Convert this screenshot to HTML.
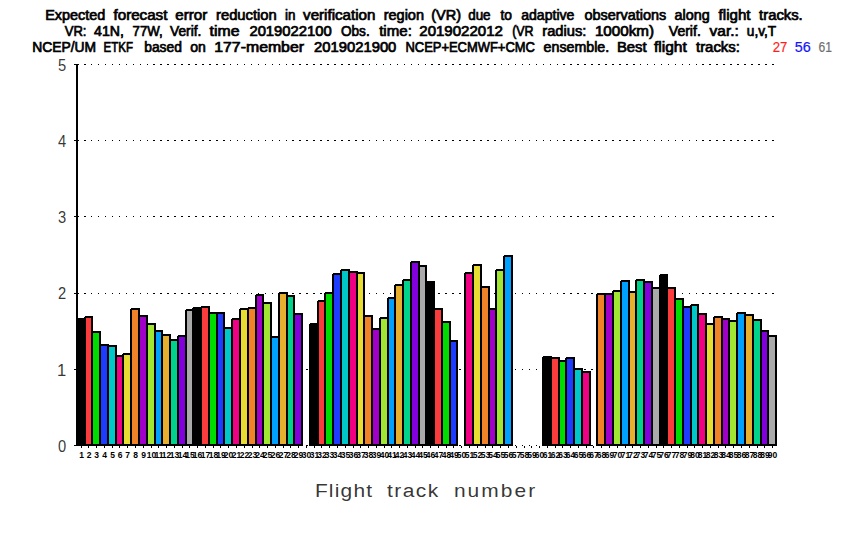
<!DOCTYPE html><html><head><meta charset="utf-8"><style>html,body{margin:0;padding:0;background:#fff;width:850px;height:540px;overflow:hidden}svg{display:block}</style></head><body>
<svg width="850" height="540" viewBox="0 0 850 540">
<rect x="0" y="0" width="850" height="540" fill="#fff"/>
<g font-family="Liberation Sans, sans-serif" font-weight="normal" font-size="14">
<text x="45.17" y="20" textLength="60.04" lengthAdjust="spacingAndGlyphs" fill="#000" stroke="#000" stroke-width="0.7">Expected</text><text x="113.50" y="20" textLength="53.88" lengthAdjust="spacingAndGlyphs" fill="#000" stroke="#000" stroke-width="0.7">forecast</text><text x="175.30" y="20" textLength="31.93" lengthAdjust="spacingAndGlyphs" fill="#000" stroke="#000" stroke-width="0.7">error</text><text x="216.00" y="20" textLength="60.73" lengthAdjust="spacingAndGlyphs" fill="#000" stroke="#000" stroke-width="0.7">reduction</text><text x="285.00" y="20" textLength="10.45" lengthAdjust="spacingAndGlyphs" fill="#000" stroke="#000" stroke-width="0.7">in</text><text x="303.10" y="20" textLength="72.35" lengthAdjust="spacingAndGlyphs" fill="#000" stroke="#000" stroke-width="0.7">verification</text><text x="383.70" y="20" textLength="40.31" lengthAdjust="spacingAndGlyphs" fill="#000" stroke="#000" stroke-width="0.7">region</text><text x="431.30" y="20" textLength="29.79" lengthAdjust="spacingAndGlyphs" fill="#000" stroke="#000" stroke-width="0.7">(VR)</text><text x="468.20" y="20" textLength="22.39" lengthAdjust="spacingAndGlyphs" fill="#000" stroke="#000" stroke-width="0.7">due</text><text x="500.50" y="20" textLength="11.49" lengthAdjust="spacingAndGlyphs" fill="#000" stroke="#000" stroke-width="0.7">to</text><text x="521.20" y="20" textLength="53.19" lengthAdjust="spacingAndGlyphs" fill="#000" stroke="#000" stroke-width="0.7">adaptive</text><text x="584.40" y="20" textLength="81.80" lengthAdjust="spacingAndGlyphs" fill="#000" stroke="#000" stroke-width="0.7">observations</text><text x="674.60" y="20" textLength="35.11" lengthAdjust="spacingAndGlyphs" fill="#000" stroke="#000" stroke-width="0.7">along</text><text x="718.60" y="20" textLength="31.98" lengthAdjust="spacingAndGlyphs" fill="#000" stroke="#000" stroke-width="0.7">flight</text><text x="759.10" y="20" textLength="43.64" lengthAdjust="spacingAndGlyphs" fill="#000" stroke="#000" stroke-width="0.7">tracks.</text>
<text x="64.70" y="36" textLength="21.73" lengthAdjust="spacingAndGlyphs" fill="#000" stroke="#000" stroke-width="0.7">VR:</text><text x="94.10" y="36" textLength="29.80" lengthAdjust="spacingAndGlyphs" fill="#000" stroke="#000" stroke-width="0.7">41N,</text><text x="132.60" y="36" textLength="30.14" lengthAdjust="spacingAndGlyphs" fill="#000" stroke="#000" stroke-width="0.7">77W,</text><text x="170.10" y="36" textLength="31.27" lengthAdjust="spacingAndGlyphs" fill="#000" stroke="#000" stroke-width="0.7">Verif.</text><text x="209.60" y="36" textLength="29.86" lengthAdjust="spacingAndGlyphs" fill="#000" stroke="#000" stroke-width="0.7">time</text><text x="249.40" y="36" textLength="82.37" lengthAdjust="spacingAndGlyphs" fill="#000" stroke="#000" stroke-width="0.7">2019022100</text><text x="341.00" y="36" textLength="28.66" lengthAdjust="spacingAndGlyphs" fill="#000" stroke="#000" stroke-width="0.7">Obs.</text><text x="379.20" y="36" textLength="32.66" lengthAdjust="spacingAndGlyphs" fill="#000" stroke="#000" stroke-width="0.7">time:</text><text x="419.30" y="36" textLength="83.57" lengthAdjust="spacingAndGlyphs" fill="#000" stroke="#000" stroke-width="0.7">2019022012</text><text x="512.20" y="36" textLength="21.40" lengthAdjust="spacingAndGlyphs" fill="#000" stroke="#000" stroke-width="0.7">(VR</text><text x="542.30" y="36" textLength="44.13" lengthAdjust="spacingAndGlyphs" fill="#000" stroke="#000" stroke-width="0.7">radius:</text><text x="594.91" y="36" textLength="59.10" lengthAdjust="spacingAndGlyphs" fill="#000" stroke="#000" stroke-width="0.7">1000km)</text><text x="668.80" y="36" textLength="31.99" lengthAdjust="spacingAndGlyphs" fill="#000" stroke="#000" stroke-width="0.7">Verif.</text><text x="709.60" y="36" textLength="29.18" lengthAdjust="spacingAndGlyphs" fill="#000" stroke="#000" stroke-width="0.7">var.:</text><text x="746.80" y="36" textLength="29.36" lengthAdjust="spacingAndGlyphs" fill="#000" stroke="#000" stroke-width="0.7">u,v,T</text>
<text x="32.21" y="52" textLength="63.84" lengthAdjust="spacingAndGlyphs" fill="#000" stroke="#000" stroke-width="0.7">NCEP/UM</text><text x="103.58" y="52" textLength="29.37" lengthAdjust="spacingAndGlyphs" fill="#000" stroke="#000" stroke-width="0.7">ETKF</text><text x="144.20" y="52" textLength="37.68" lengthAdjust="spacingAndGlyphs" fill="#000" stroke="#000" stroke-width="0.7">based</text><text x="190.20" y="52" textLength="15.59" lengthAdjust="spacingAndGlyphs" fill="#000" stroke="#000" stroke-width="0.7">on</text><text x="214.27" y="52" textLength="89.75" lengthAdjust="spacingAndGlyphs" fill="#000" stroke="#000" stroke-width="0.7">177-member</text><text x="314.10" y="52" textLength="82.27" lengthAdjust="spacingAndGlyphs" fill="#000" stroke="#000" stroke-width="0.7">2019021900</text><text x="405.48" y="52" textLength="129.43" lengthAdjust="spacingAndGlyphs" fill="#000" stroke="#000" stroke-width="0.7">NCEP+ECMWF+CMC</text><text x="543.60" y="52" textLength="65.60" lengthAdjust="spacingAndGlyphs" fill="#000" stroke="#000" stroke-width="0.7">ensemble.</text><text x="616.94" y="52" textLength="29.74" lengthAdjust="spacingAndGlyphs" fill="#000" stroke="#000" stroke-width="0.7">Best</text><text x="653.90" y="52" textLength="32.88" lengthAdjust="spacingAndGlyphs" fill="#000" stroke="#000" stroke-width="0.7">flight</text><text x="696.00" y="52" textLength="43.95" lengthAdjust="spacingAndGlyphs" fill="#000" stroke="#000" stroke-width="0.7">tracks:</text><text x="772.70" y="52" textLength="14.70" lengthAdjust="spacingAndGlyphs" fill="#ff1e1e" stroke="#ff1e1e" stroke-width="0.2">27</text><text x="794.70" y="52" textLength="15.98" lengthAdjust="spacingAndGlyphs" fill="#1414ff" stroke="#1414ff" stroke-width="0.2">56</text><text x="818.60" y="52" textLength="13.42" lengthAdjust="spacingAndGlyphs" fill="#6e6e6e" stroke="#6e6e6e" stroke-width="0.2">61</text>
</g>
<g fill="#000" shape-rendering="crispEdges"><rect x="84" y="445" width="2" height="1"/><rect x="91" y="445" width="1" height="1"/><rect x="98" y="445" width="1" height="1"/><rect x="105" y="445" width="1" height="1"/><rect x="112" y="445" width="1" height="1"/><rect x="119" y="445" width="1" height="1"/><rect x="126" y="445" width="1" height="1"/><rect x="133" y="445" width="1" height="1"/><rect x="140" y="445" width="1" height="1"/><rect x="147" y="445" width="1" height="1"/><rect x="153" y="445" width="2" height="1"/><rect x="160" y="445" width="2" height="1"/><rect x="167" y="445" width="2" height="1"/><rect x="174" y="445" width="2" height="1"/><rect x="181" y="445" width="2" height="1"/><rect x="188" y="445" width="2" height="1"/><rect x="195" y="445" width="2" height="1"/><rect x="202" y="445" width="2" height="1"/><rect x="209" y="445" width="2" height="1"/><rect x="216" y="445" width="2" height="1"/><rect x="223" y="445" width="2" height="1"/><rect x="230" y="445" width="1" height="1"/><rect x="237" y="445" width="1" height="1"/><rect x="244" y="445" width="1" height="1"/><rect x="251" y="445" width="1" height="1"/><rect x="258" y="445" width="1" height="1"/><rect x="265" y="445" width="1" height="1"/><rect x="272" y="445" width="1" height="1"/><rect x="279" y="445" width="1" height="1"/><rect x="286" y="445" width="1" height="1"/><rect x="292" y="445" width="2" height="1"/><rect x="299" y="445" width="2" height="1"/><rect x="306" y="445" width="2" height="1"/><rect x="313" y="445" width="2" height="1"/><rect x="320" y="445" width="2" height="1"/><rect x="327" y="445" width="2" height="1"/><rect x="334" y="445" width="2" height="1"/><rect x="341" y="445" width="2" height="1"/><rect x="348" y="445" width="2" height="1"/><rect x="355" y="445" width="2" height="1"/><rect x="362" y="445" width="2" height="1"/><rect x="369" y="445" width="1" height="1"/><rect x="376" y="445" width="1" height="1"/><rect x="383" y="445" width="1" height="1"/><rect x="390" y="445" width="1" height="1"/><rect x="397" y="445" width="1" height="1"/><rect x="404" y="445" width="1" height="1"/><rect x="411" y="445" width="1" height="1"/><rect x="418" y="445" width="1" height="1"/><rect x="425" y="445" width="1" height="1"/><rect x="431" y="445" width="2" height="1"/><rect x="438" y="445" width="2" height="1"/><rect x="445" y="445" width="2" height="1"/><rect x="452" y="445" width="2" height="1"/><rect x="459" y="445" width="2" height="1"/><rect x="466" y="445" width="2" height="1"/><rect x="473" y="445" width="2" height="1"/><rect x="480" y="445" width="2" height="1"/><rect x="487" y="445" width="2" height="1"/><rect x="494" y="445" width="2" height="1"/><rect x="501" y="445" width="1" height="1"/><rect x="508" y="445" width="1" height="1"/><rect x="515" y="445" width="1" height="1"/><rect x="522" y="445" width="1" height="1"/><rect x="529" y="445" width="1" height="1"/><rect x="536" y="445" width="1" height="1"/><rect x="543" y="445" width="1" height="1"/><rect x="550" y="445" width="1" height="1"/><rect x="557" y="445" width="1" height="1"/><rect x="563" y="445" width="2" height="1"/><rect x="570" y="445" width="2" height="1"/><rect x="577" y="445" width="2" height="1"/><rect x="584" y="445" width="2" height="1"/><rect x="591" y="445" width="2" height="1"/><rect x="598" y="445" width="2" height="1"/><rect x="605" y="445" width="2" height="1"/><rect x="612" y="445" width="2" height="1"/><rect x="619" y="445" width="2" height="1"/><rect x="626" y="445" width="2" height="1"/><rect x="633" y="445" width="2" height="1"/><rect x="640" y="445" width="1" height="1"/><rect x="647" y="445" width="1" height="1"/><rect x="654" y="445" width="1" height="1"/><rect x="661" y="445" width="1" height="1"/><rect x="668" y="445" width="1" height="1"/><rect x="675" y="445" width="1" height="1"/><rect x="682" y="445" width="1" height="1"/><rect x="689" y="445" width="1" height="1"/><rect x="696" y="445" width="1" height="1"/><rect x="702" y="445" width="2" height="1"/><rect x="709" y="445" width="2" height="1"/><rect x="716" y="445" width="2" height="1"/><rect x="723" y="445" width="2" height="1"/><rect x="730" y="445" width="2" height="1"/><rect x="737" y="445" width="2" height="1"/><rect x="744" y="445" width="2" height="1"/><rect x="751" y="445" width="2" height="1"/><rect x="758" y="445" width="2" height="1"/><rect x="765" y="445" width="2" height="1"/><rect x="772" y="445" width="2" height="1"/><rect x="84" y="369" width="2" height="1"/><rect x="91" y="369" width="1" height="1"/><rect x="98" y="369" width="1" height="1"/><rect x="105" y="369" width="1" height="1"/><rect x="112" y="369" width="1" height="1"/><rect x="119" y="369" width="1" height="1"/><rect x="126" y="369" width="1" height="1"/><rect x="133" y="369" width="1" height="1"/><rect x="140" y="369" width="1" height="1"/><rect x="147" y="369" width="1" height="1"/><rect x="153" y="369" width="2" height="1"/><rect x="160" y="369" width="2" height="1"/><rect x="167" y="369" width="2" height="1"/><rect x="174" y="369" width="2" height="1"/><rect x="181" y="369" width="2" height="1"/><rect x="188" y="369" width="2" height="1"/><rect x="195" y="369" width="2" height="1"/><rect x="202" y="369" width="2" height="1"/><rect x="209" y="369" width="2" height="1"/><rect x="216" y="369" width="2" height="1"/><rect x="223" y="369" width="2" height="1"/><rect x="230" y="369" width="1" height="1"/><rect x="237" y="369" width="1" height="1"/><rect x="244" y="369" width="1" height="1"/><rect x="251" y="369" width="1" height="1"/><rect x="258" y="369" width="1" height="1"/><rect x="265" y="369" width="1" height="1"/><rect x="272" y="369" width="1" height="1"/><rect x="279" y="369" width="1" height="1"/><rect x="286" y="369" width="1" height="1"/><rect x="292" y="369" width="2" height="1"/><rect x="299" y="369" width="2" height="1"/><rect x="306" y="369" width="2" height="1"/><rect x="313" y="369" width="2" height="1"/><rect x="320" y="369" width="2" height="1"/><rect x="327" y="369" width="2" height="1"/><rect x="334" y="369" width="2" height="1"/><rect x="341" y="369" width="2" height="1"/><rect x="348" y="369" width="2" height="1"/><rect x="355" y="369" width="2" height="1"/><rect x="362" y="369" width="2" height="1"/><rect x="369" y="369" width="1" height="1"/><rect x="376" y="369" width="1" height="1"/><rect x="383" y="369" width="1" height="1"/><rect x="390" y="369" width="1" height="1"/><rect x="397" y="369" width="1" height="1"/><rect x="404" y="369" width="1" height="1"/><rect x="411" y="369" width="1" height="1"/><rect x="418" y="369" width="1" height="1"/><rect x="425" y="369" width="1" height="1"/><rect x="431" y="369" width="2" height="1"/><rect x="438" y="369" width="2" height="1"/><rect x="445" y="369" width="2" height="1"/><rect x="452" y="369" width="2" height="1"/><rect x="459" y="369" width="2" height="1"/><rect x="466" y="369" width="2" height="1"/><rect x="473" y="369" width="2" height="1"/><rect x="480" y="369" width="2" height="1"/><rect x="487" y="369" width="2" height="1"/><rect x="494" y="369" width="2" height="1"/><rect x="501" y="369" width="1" height="1"/><rect x="508" y="369" width="1" height="1"/><rect x="515" y="369" width="1" height="1"/><rect x="522" y="369" width="1" height="1"/><rect x="529" y="369" width="1" height="1"/><rect x="536" y="369" width="1" height="1"/><rect x="543" y="369" width="1" height="1"/><rect x="550" y="369" width="1" height="1"/><rect x="557" y="369" width="1" height="1"/><rect x="563" y="369" width="2" height="1"/><rect x="570" y="369" width="2" height="1"/><rect x="577" y="369" width="2" height="1"/><rect x="584" y="369" width="2" height="1"/><rect x="591" y="369" width="2" height="1"/><rect x="598" y="369" width="2" height="1"/><rect x="605" y="369" width="2" height="1"/><rect x="612" y="369" width="2" height="1"/><rect x="619" y="369" width="2" height="1"/><rect x="626" y="369" width="2" height="1"/><rect x="633" y="369" width="2" height="1"/><rect x="640" y="369" width="1" height="1"/><rect x="647" y="369" width="1" height="1"/><rect x="654" y="369" width="1" height="1"/><rect x="661" y="369" width="1" height="1"/><rect x="668" y="369" width="1" height="1"/><rect x="675" y="369" width="1" height="1"/><rect x="682" y="369" width="1" height="1"/><rect x="689" y="369" width="1" height="1"/><rect x="696" y="369" width="1" height="1"/><rect x="702" y="369" width="2" height="1"/><rect x="709" y="369" width="2" height="1"/><rect x="716" y="369" width="2" height="1"/><rect x="723" y="369" width="2" height="1"/><rect x="730" y="369" width="2" height="1"/><rect x="737" y="369" width="2" height="1"/><rect x="744" y="369" width="2" height="1"/><rect x="751" y="369" width="2" height="1"/><rect x="758" y="369" width="2" height="1"/><rect x="765" y="369" width="2" height="1"/><rect x="772" y="369" width="2" height="1"/><rect x="84" y="293" width="2" height="1"/><rect x="91" y="293" width="1" height="1"/><rect x="98" y="293" width="1" height="1"/><rect x="105" y="293" width="1" height="1"/><rect x="112" y="293" width="1" height="1"/><rect x="119" y="293" width="1" height="1"/><rect x="126" y="293" width="1" height="1"/><rect x="133" y="293" width="1" height="1"/><rect x="140" y="293" width="1" height="1"/><rect x="147" y="293" width="1" height="1"/><rect x="153" y="293" width="2" height="1"/><rect x="160" y="293" width="2" height="1"/><rect x="167" y="293" width="2" height="1"/><rect x="174" y="293" width="2" height="1"/><rect x="181" y="293" width="2" height="1"/><rect x="188" y="293" width="2" height="1"/><rect x="195" y="293" width="2" height="1"/><rect x="202" y="293" width="2" height="1"/><rect x="209" y="293" width="2" height="1"/><rect x="216" y="293" width="2" height="1"/><rect x="223" y="293" width="2" height="1"/><rect x="230" y="293" width="1" height="1"/><rect x="237" y="293" width="1" height="1"/><rect x="244" y="293" width="1" height="1"/><rect x="251" y="293" width="1" height="1"/><rect x="258" y="293" width="1" height="1"/><rect x="265" y="293" width="1" height="1"/><rect x="272" y="293" width="1" height="1"/><rect x="279" y="293" width="1" height="1"/><rect x="286" y="293" width="1" height="1"/><rect x="292" y="293" width="2" height="1"/><rect x="299" y="293" width="2" height="1"/><rect x="306" y="293" width="2" height="1"/><rect x="313" y="293" width="2" height="1"/><rect x="320" y="293" width="2" height="1"/><rect x="327" y="293" width="2" height="1"/><rect x="334" y="293" width="2" height="1"/><rect x="341" y="293" width="2" height="1"/><rect x="348" y="293" width="2" height="1"/><rect x="355" y="293" width="2" height="1"/><rect x="362" y="293" width="2" height="1"/><rect x="369" y="293" width="1" height="1"/><rect x="376" y="293" width="1" height="1"/><rect x="383" y="293" width="1" height="1"/><rect x="390" y="293" width="1" height="1"/><rect x="397" y="293" width="1" height="1"/><rect x="404" y="293" width="1" height="1"/><rect x="411" y="293" width="1" height="1"/><rect x="418" y="293" width="1" height="1"/><rect x="425" y="293" width="1" height="1"/><rect x="431" y="293" width="2" height="1"/><rect x="438" y="293" width="2" height="1"/><rect x="445" y="293" width="2" height="1"/><rect x="452" y="293" width="2" height="1"/><rect x="459" y="293" width="2" height="1"/><rect x="466" y="293" width="2" height="1"/><rect x="473" y="293" width="2" height="1"/><rect x="480" y="293" width="2" height="1"/><rect x="487" y="293" width="2" height="1"/><rect x="494" y="293" width="2" height="1"/><rect x="501" y="293" width="1" height="1"/><rect x="508" y="293" width="1" height="1"/><rect x="515" y="293" width="1" height="1"/><rect x="522" y="293" width="1" height="1"/><rect x="529" y="293" width="1" height="1"/><rect x="536" y="293" width="1" height="1"/><rect x="543" y="293" width="1" height="1"/><rect x="550" y="293" width="1" height="1"/><rect x="557" y="293" width="1" height="1"/><rect x="563" y="293" width="2" height="1"/><rect x="570" y="293" width="2" height="1"/><rect x="577" y="293" width="2" height="1"/><rect x="584" y="293" width="2" height="1"/><rect x="591" y="293" width="2" height="1"/><rect x="598" y="293" width="2" height="1"/><rect x="605" y="293" width="2" height="1"/><rect x="612" y="293" width="2" height="1"/><rect x="619" y="293" width="2" height="1"/><rect x="626" y="293" width="2" height="1"/><rect x="633" y="293" width="2" height="1"/><rect x="640" y="293" width="1" height="1"/><rect x="647" y="293" width="1" height="1"/><rect x="654" y="293" width="1" height="1"/><rect x="661" y="293" width="1" height="1"/><rect x="668" y="293" width="1" height="1"/><rect x="675" y="293" width="1" height="1"/><rect x="682" y="293" width="1" height="1"/><rect x="689" y="293" width="1" height="1"/><rect x="696" y="293" width="1" height="1"/><rect x="702" y="293" width="2" height="1"/><rect x="709" y="293" width="2" height="1"/><rect x="716" y="293" width="2" height="1"/><rect x="723" y="293" width="2" height="1"/><rect x="730" y="293" width="2" height="1"/><rect x="737" y="293" width="2" height="1"/><rect x="744" y="293" width="2" height="1"/><rect x="751" y="293" width="2" height="1"/><rect x="758" y="293" width="2" height="1"/><rect x="765" y="293" width="2" height="1"/><rect x="772" y="293" width="2" height="1"/><rect x="84" y="216" width="2" height="1"/><rect x="91" y="216" width="1" height="1"/><rect x="98" y="216" width="1" height="1"/><rect x="105" y="216" width="1" height="1"/><rect x="112" y="216" width="1" height="1"/><rect x="119" y="216" width="1" height="1"/><rect x="126" y="216" width="1" height="1"/><rect x="133" y="216" width="1" height="1"/><rect x="140" y="216" width="1" height="1"/><rect x="147" y="216" width="1" height="1"/><rect x="153" y="216" width="2" height="1"/><rect x="160" y="216" width="2" height="1"/><rect x="167" y="216" width="2" height="1"/><rect x="174" y="216" width="2" height="1"/><rect x="181" y="216" width="2" height="1"/><rect x="188" y="216" width="2" height="1"/><rect x="195" y="216" width="2" height="1"/><rect x="202" y="216" width="2" height="1"/><rect x="209" y="216" width="2" height="1"/><rect x="216" y="216" width="2" height="1"/><rect x="223" y="216" width="2" height="1"/><rect x="230" y="216" width="1" height="1"/><rect x="237" y="216" width="1" height="1"/><rect x="244" y="216" width="1" height="1"/><rect x="251" y="216" width="1" height="1"/><rect x="258" y="216" width="1" height="1"/><rect x="265" y="216" width="1" height="1"/><rect x="272" y="216" width="1" height="1"/><rect x="279" y="216" width="1" height="1"/><rect x="286" y="216" width="1" height="1"/><rect x="292" y="216" width="2" height="1"/><rect x="299" y="216" width="2" height="1"/><rect x="306" y="216" width="2" height="1"/><rect x="313" y="216" width="2" height="1"/><rect x="320" y="216" width="2" height="1"/><rect x="327" y="216" width="2" height="1"/><rect x="334" y="216" width="2" height="1"/><rect x="341" y="216" width="2" height="1"/><rect x="348" y="216" width="2" height="1"/><rect x="355" y="216" width="2" height="1"/><rect x="362" y="216" width="2" height="1"/><rect x="369" y="216" width="1" height="1"/><rect x="376" y="216" width="1" height="1"/><rect x="383" y="216" width="1" height="1"/><rect x="390" y="216" width="1" height="1"/><rect x="397" y="216" width="1" height="1"/><rect x="404" y="216" width="1" height="1"/><rect x="411" y="216" width="1" height="1"/><rect x="418" y="216" width="1" height="1"/><rect x="425" y="216" width="1" height="1"/><rect x="431" y="216" width="2" height="1"/><rect x="438" y="216" width="2" height="1"/><rect x="445" y="216" width="2" height="1"/><rect x="452" y="216" width="2" height="1"/><rect x="459" y="216" width="2" height="1"/><rect x="466" y="216" width="2" height="1"/><rect x="473" y="216" width="2" height="1"/><rect x="480" y="216" width="2" height="1"/><rect x="487" y="216" width="2" height="1"/><rect x="494" y="216" width="2" height="1"/><rect x="501" y="216" width="1" height="1"/><rect x="508" y="216" width="1" height="1"/><rect x="515" y="216" width="1" height="1"/><rect x="522" y="216" width="1" height="1"/><rect x="529" y="216" width="1" height="1"/><rect x="536" y="216" width="1" height="1"/><rect x="543" y="216" width="1" height="1"/><rect x="550" y="216" width="1" height="1"/><rect x="557" y="216" width="1" height="1"/><rect x="563" y="216" width="2" height="1"/><rect x="570" y="216" width="2" height="1"/><rect x="577" y="216" width="2" height="1"/><rect x="584" y="216" width="2" height="1"/><rect x="591" y="216" width="2" height="1"/><rect x="598" y="216" width="2" height="1"/><rect x="605" y="216" width="2" height="1"/><rect x="612" y="216" width="2" height="1"/><rect x="619" y="216" width="2" height="1"/><rect x="626" y="216" width="2" height="1"/><rect x="633" y="216" width="2" height="1"/><rect x="640" y="216" width="1" height="1"/><rect x="647" y="216" width="1" height="1"/><rect x="654" y="216" width="1" height="1"/><rect x="661" y="216" width="1" height="1"/><rect x="668" y="216" width="1" height="1"/><rect x="675" y="216" width="1" height="1"/><rect x="682" y="216" width="1" height="1"/><rect x="689" y="216" width="1" height="1"/><rect x="696" y="216" width="1" height="1"/><rect x="702" y="216" width="2" height="1"/><rect x="709" y="216" width="2" height="1"/><rect x="716" y="216" width="2" height="1"/><rect x="723" y="216" width="2" height="1"/><rect x="730" y="216" width="2" height="1"/><rect x="737" y="216" width="2" height="1"/><rect x="744" y="216" width="2" height="1"/><rect x="751" y="216" width="2" height="1"/><rect x="758" y="216" width="2" height="1"/><rect x="765" y="216" width="2" height="1"/><rect x="772" y="216" width="2" height="1"/><rect x="84" y="140" width="2" height="1"/><rect x="91" y="140" width="1" height="1"/><rect x="98" y="140" width="1" height="1"/><rect x="105" y="140" width="1" height="1"/><rect x="112" y="140" width="1" height="1"/><rect x="119" y="140" width="1" height="1"/><rect x="126" y="140" width="1" height="1"/><rect x="133" y="140" width="1" height="1"/><rect x="140" y="140" width="1" height="1"/><rect x="147" y="140" width="1" height="1"/><rect x="153" y="140" width="2" height="1"/><rect x="160" y="140" width="2" height="1"/><rect x="167" y="140" width="2" height="1"/><rect x="174" y="140" width="2" height="1"/><rect x="181" y="140" width="2" height="1"/><rect x="188" y="140" width="2" height="1"/><rect x="195" y="140" width="2" height="1"/><rect x="202" y="140" width="2" height="1"/><rect x="209" y="140" width="2" height="1"/><rect x="216" y="140" width="2" height="1"/><rect x="223" y="140" width="2" height="1"/><rect x="230" y="140" width="1" height="1"/><rect x="237" y="140" width="1" height="1"/><rect x="244" y="140" width="1" height="1"/><rect x="251" y="140" width="1" height="1"/><rect x="258" y="140" width="1" height="1"/><rect x="265" y="140" width="1" height="1"/><rect x="272" y="140" width="1" height="1"/><rect x="279" y="140" width="1" height="1"/><rect x="286" y="140" width="1" height="1"/><rect x="292" y="140" width="2" height="1"/><rect x="299" y="140" width="2" height="1"/><rect x="306" y="140" width="2" height="1"/><rect x="313" y="140" width="2" height="1"/><rect x="320" y="140" width="2" height="1"/><rect x="327" y="140" width="2" height="1"/><rect x="334" y="140" width="2" height="1"/><rect x="341" y="140" width="2" height="1"/><rect x="348" y="140" width="2" height="1"/><rect x="355" y="140" width="2" height="1"/><rect x="362" y="140" width="2" height="1"/><rect x="369" y="140" width="1" height="1"/><rect x="376" y="140" width="1" height="1"/><rect x="383" y="140" width="1" height="1"/><rect x="390" y="140" width="1" height="1"/><rect x="397" y="140" width="1" height="1"/><rect x="404" y="140" width="1" height="1"/><rect x="411" y="140" width="1" height="1"/><rect x="418" y="140" width="1" height="1"/><rect x="425" y="140" width="1" height="1"/><rect x="431" y="140" width="2" height="1"/><rect x="438" y="140" width="2" height="1"/><rect x="445" y="140" width="2" height="1"/><rect x="452" y="140" width="2" height="1"/><rect x="459" y="140" width="2" height="1"/><rect x="466" y="140" width="2" height="1"/><rect x="473" y="140" width="2" height="1"/><rect x="480" y="140" width="2" height="1"/><rect x="487" y="140" width="2" height="1"/><rect x="494" y="140" width="2" height="1"/><rect x="501" y="140" width="1" height="1"/><rect x="508" y="140" width="1" height="1"/><rect x="515" y="140" width="1" height="1"/><rect x="522" y="140" width="1" height="1"/><rect x="529" y="140" width="1" height="1"/><rect x="536" y="140" width="1" height="1"/><rect x="543" y="140" width="1" height="1"/><rect x="550" y="140" width="1" height="1"/><rect x="557" y="140" width="1" height="1"/><rect x="563" y="140" width="2" height="1"/><rect x="570" y="140" width="2" height="1"/><rect x="577" y="140" width="2" height="1"/><rect x="584" y="140" width="2" height="1"/><rect x="591" y="140" width="2" height="1"/><rect x="598" y="140" width="2" height="1"/><rect x="605" y="140" width="2" height="1"/><rect x="612" y="140" width="2" height="1"/><rect x="619" y="140" width="2" height="1"/><rect x="626" y="140" width="2" height="1"/><rect x="633" y="140" width="2" height="1"/><rect x="640" y="140" width="1" height="1"/><rect x="647" y="140" width="1" height="1"/><rect x="654" y="140" width="1" height="1"/><rect x="661" y="140" width="1" height="1"/><rect x="668" y="140" width="1" height="1"/><rect x="675" y="140" width="1" height="1"/><rect x="682" y="140" width="1" height="1"/><rect x="689" y="140" width="1" height="1"/><rect x="696" y="140" width="1" height="1"/><rect x="702" y="140" width="2" height="1"/><rect x="709" y="140" width="2" height="1"/><rect x="716" y="140" width="2" height="1"/><rect x="723" y="140" width="2" height="1"/><rect x="730" y="140" width="2" height="1"/><rect x="737" y="140" width="2" height="1"/><rect x="744" y="140" width="2" height="1"/><rect x="751" y="140" width="2" height="1"/><rect x="758" y="140" width="2" height="1"/><rect x="765" y="140" width="2" height="1"/><rect x="772" y="140" width="2" height="1"/><rect x="84" y="64" width="2" height="1"/><rect x="91" y="64" width="1" height="1"/><rect x="98" y="64" width="1" height="1"/><rect x="105" y="64" width="1" height="1"/><rect x="112" y="64" width="1" height="1"/><rect x="119" y="64" width="1" height="1"/><rect x="126" y="64" width="1" height="1"/><rect x="133" y="64" width="1" height="1"/><rect x="140" y="64" width="1" height="1"/><rect x="147" y="64" width="1" height="1"/><rect x="153" y="64" width="2" height="1"/><rect x="160" y="64" width="2" height="1"/><rect x="167" y="64" width="2" height="1"/><rect x="174" y="64" width="2" height="1"/><rect x="181" y="64" width="2" height="1"/><rect x="188" y="64" width="2" height="1"/><rect x="195" y="64" width="2" height="1"/><rect x="202" y="64" width="2" height="1"/><rect x="209" y="64" width="2" height="1"/><rect x="216" y="64" width="2" height="1"/><rect x="223" y="64" width="2" height="1"/><rect x="230" y="64" width="1" height="1"/><rect x="237" y="64" width="1" height="1"/><rect x="244" y="64" width="1" height="1"/><rect x="251" y="64" width="1" height="1"/><rect x="258" y="64" width="1" height="1"/><rect x="265" y="64" width="1" height="1"/><rect x="272" y="64" width="1" height="1"/><rect x="279" y="64" width="1" height="1"/><rect x="286" y="64" width="1" height="1"/><rect x="292" y="64" width="2" height="1"/><rect x="299" y="64" width="2" height="1"/><rect x="306" y="64" width="2" height="1"/><rect x="313" y="64" width="2" height="1"/><rect x="320" y="64" width="2" height="1"/><rect x="327" y="64" width="2" height="1"/><rect x="334" y="64" width="2" height="1"/><rect x="341" y="64" width="2" height="1"/><rect x="348" y="64" width="2" height="1"/><rect x="355" y="64" width="2" height="1"/><rect x="362" y="64" width="2" height="1"/><rect x="369" y="64" width="1" height="1"/><rect x="376" y="64" width="1" height="1"/><rect x="383" y="64" width="1" height="1"/><rect x="390" y="64" width="1" height="1"/><rect x="397" y="64" width="1" height="1"/><rect x="404" y="64" width="1" height="1"/><rect x="411" y="64" width="1" height="1"/><rect x="418" y="64" width="1" height="1"/><rect x="425" y="64" width="1" height="1"/><rect x="431" y="64" width="2" height="1"/><rect x="438" y="64" width="2" height="1"/><rect x="445" y="64" width="2" height="1"/><rect x="452" y="64" width="2" height="1"/><rect x="459" y="64" width="2" height="1"/><rect x="466" y="64" width="2" height="1"/><rect x="473" y="64" width="2" height="1"/><rect x="480" y="64" width="2" height="1"/><rect x="487" y="64" width="2" height="1"/><rect x="494" y="64" width="2" height="1"/><rect x="501" y="64" width="1" height="1"/><rect x="508" y="64" width="1" height="1"/><rect x="515" y="64" width="1" height="1"/><rect x="522" y="64" width="1" height="1"/><rect x="529" y="64" width="1" height="1"/><rect x="536" y="64" width="1" height="1"/><rect x="543" y="64" width="1" height="1"/><rect x="550" y="64" width="1" height="1"/><rect x="557" y="64" width="1" height="1"/><rect x="563" y="64" width="2" height="1"/><rect x="570" y="64" width="2" height="1"/><rect x="577" y="64" width="2" height="1"/><rect x="584" y="64" width="2" height="1"/><rect x="591" y="64" width="2" height="1"/><rect x="598" y="64" width="2" height="1"/><rect x="605" y="64" width="2" height="1"/><rect x="612" y="64" width="2" height="1"/><rect x="619" y="64" width="2" height="1"/><rect x="626" y="64" width="2" height="1"/><rect x="633" y="64" width="2" height="1"/><rect x="640" y="64" width="1" height="1"/><rect x="647" y="64" width="1" height="1"/><rect x="654" y="64" width="1" height="1"/><rect x="661" y="64" width="1" height="1"/><rect x="668" y="64" width="1" height="1"/><rect x="675" y="64" width="1" height="1"/><rect x="682" y="64" width="1" height="1"/><rect x="689" y="64" width="1" height="1"/><rect x="696" y="64" width="1" height="1"/><rect x="702" y="64" width="2" height="1"/><rect x="709" y="64" width="2" height="1"/><rect x="716" y="64" width="2" height="1"/><rect x="723" y="64" width="2" height="1"/><rect x="730" y="64" width="2" height="1"/><rect x="737" y="64" width="2" height="1"/><rect x="744" y="64" width="2" height="1"/><rect x="751" y="64" width="2" height="1"/><rect x="758" y="64" width="2" height="1"/><rect x="765" y="64" width="2" height="1"/><rect x="772" y="64" width="2" height="1"/></g>
<g shape-rendering="crispEdges"><rect x="77" y="319" width="8" height="126" fill="#000000"/><rect x="85" y="317" width="7" height="128" fill="#fa3c3c"/><rect x="92" y="332" width="8" height="113" fill="#00dc00"/><rect x="100" y="345" width="8" height="100" fill="#1e3cff"/><rect x="108" y="346" width="8" height="99" fill="#00c8c8"/><rect x="116" y="356" width="7" height="89" fill="#f00082"/><rect x="123" y="354" width="8" height="91" fill="#e6dc32"/><rect x="131" y="309" width="8" height="136" fill="#f08228"/><rect x="139" y="316" width="8" height="129" fill="#a000c8"/><rect x="147" y="324" width="8" height="121" fill="#a0e632"/><rect x="155" y="331" width="7" height="114" fill="#00a0ff"/><rect x="162" y="335" width="8" height="110" fill="#e6af2d"/><rect x="170" y="340" width="8" height="105" fill="#00d28c"/><rect x="178" y="336" width="8" height="109" fill="#8200dc"/><rect x="186" y="310" width="7" height="135" fill="#aaaaaa"/><rect x="193" y="308" width="8" height="137" fill="#000000"/><rect x="201" y="307" width="8" height="138" fill="#fa3c3c"/><rect x="209" y="313" width="8" height="132" fill="#00dc00"/><rect x="217" y="313" width="7" height="132" fill="#1e3cff"/><rect x="224" y="328" width="8" height="117" fill="#00c8c8"/><rect x="232" y="319" width="8" height="126" fill="#f00082"/><rect x="240" y="309" width="8" height="136" fill="#e6dc32"/><rect x="248" y="308" width="8" height="137" fill="#f08228"/><rect x="256" y="295" width="7" height="150" fill="#a000c8"/><rect x="263" y="303" width="8" height="142" fill="#a0e632"/><rect x="271" y="337" width="8" height="108" fill="#00a0ff"/><rect x="279" y="293" width="8" height="152" fill="#e6af2d"/><rect x="287" y="296" width="7" height="149" fill="#00d28c"/><rect x="294" y="314" width="8" height="131" fill="#8200dc"/><rect x="310" y="324" width="8" height="121" fill="#000000"/><rect x="318" y="301" width="7" height="144" fill="#fa3c3c"/><rect x="325" y="293" width="8" height="152" fill="#00dc00"/><rect x="333" y="274" width="8" height="171" fill="#1e3cff"/><rect x="341" y="270" width="8" height="175" fill="#00c8c8"/><rect x="349" y="272" width="8" height="173" fill="#f00082"/><rect x="357" y="273" width="7" height="172" fill="#e6dc32"/><rect x="364" y="316" width="8" height="129" fill="#f08228"/><rect x="372" y="329" width="8" height="116" fill="#a000c8"/><rect x="380" y="318" width="8" height="127" fill="#a0e632"/><rect x="388" y="298" width="7" height="147" fill="#00a0ff"/><rect x="395" y="285" width="8" height="160" fill="#e6af2d"/><rect x="403" y="280" width="8" height="165" fill="#00d28c"/><rect x="411" y="262" width="8" height="183" fill="#8200dc"/><rect x="419" y="266" width="7" height="179" fill="#aaaaaa"/><rect x="426" y="282" width="8" height="163" fill="#000000"/><rect x="434" y="309" width="8" height="136" fill="#fa3c3c"/><rect x="442" y="322" width="8" height="123" fill="#00dc00"/><rect x="450" y="341" width="7" height="104" fill="#1e3cff"/><rect x="465" y="273" width="8" height="172" fill="#f00082"/><rect x="473" y="265" width="8" height="180" fill="#e6dc32"/><rect x="481" y="287" width="8" height="158" fill="#f08228"/><rect x="489" y="309" width="7" height="136" fill="#a000c8"/><rect x="496" y="270" width="8" height="175" fill="#a0e632"/><rect x="504" y="256" width="8" height="189" fill="#00a0ff"/><rect x="543" y="357" width="8" height="88" fill="#000000"/><rect x="551" y="358" width="8" height="87" fill="#fa3c3c"/><rect x="559" y="361" width="7" height="84" fill="#00dc00"/><rect x="566" y="358" width="8" height="87" fill="#1e3cff"/><rect x="574" y="369" width="8" height="76" fill="#00c8c8"/><rect x="582" y="372" width="8" height="73" fill="#f00082"/><rect x="597" y="294" width="8" height="151" fill="#f08228"/><rect x="605" y="294" width="8" height="151" fill="#a000c8"/><rect x="613" y="291" width="8" height="154" fill="#a0e632"/><rect x="621" y="281" width="8" height="164" fill="#00a0ff"/><rect x="629" y="292" width="7" height="153" fill="#e6af2d"/><rect x="636" y="280" width="8" height="165" fill="#00d28c"/><rect x="644" y="282" width="8" height="163" fill="#8200dc"/><rect x="652" y="288" width="8" height="157" fill="#aaaaaa"/><rect x="660" y="275" width="7" height="170" fill="#000000"/><rect x="667" y="288" width="8" height="157" fill="#fa3c3c"/><rect x="675" y="299" width="8" height="146" fill="#00dc00"/><rect x="683" y="307" width="8" height="138" fill="#1e3cff"/><rect x="691" y="305" width="7" height="140" fill="#00c8c8"/><rect x="698" y="314" width="8" height="131" fill="#f00082"/><rect x="706" y="324" width="8" height="121" fill="#e6dc32"/><rect x="714" y="317" width="8" height="128" fill="#f08228"/><rect x="722" y="319" width="7" height="126" fill="#a000c8"/><rect x="729" y="321" width="8" height="124" fill="#a0e632"/><rect x="737" y="313" width="8" height="132" fill="#00a0ff"/><rect x="745" y="315" width="8" height="130" fill="#e6af2d"/><rect x="753" y="320" width="8" height="125" fill="#00d28c"/><rect x="761" y="331" width="7" height="114" fill="#8200dc"/><rect x="768" y="336" width="8" height="109" fill="#aaaaaa"/></g>
<g shape-rendering="crispEdges" fill="none" stroke="#000" stroke-width="2"><rect x="77" y="319" width="8" height="126"/><rect x="85" y="317" width="7" height="128"/><rect x="92" y="332" width="8" height="113"/><rect x="100" y="345" width="8" height="100"/><rect x="108" y="346" width="8" height="99"/><rect x="116" y="356" width="7" height="89"/><rect x="123" y="354" width="8" height="91"/><rect x="131" y="309" width="8" height="136"/><rect x="139" y="316" width="8" height="129"/><rect x="147" y="324" width="8" height="121"/><rect x="155" y="331" width="7" height="114"/><rect x="162" y="335" width="8" height="110"/><rect x="170" y="340" width="8" height="105"/><rect x="178" y="336" width="8" height="109"/><rect x="186" y="310" width="7" height="135"/><rect x="193" y="308" width="8" height="137"/><rect x="201" y="307" width="8" height="138"/><rect x="209" y="313" width="8" height="132"/><rect x="217" y="313" width="7" height="132"/><rect x="224" y="328" width="8" height="117"/><rect x="232" y="319" width="8" height="126"/><rect x="240" y="309" width="8" height="136"/><rect x="248" y="308" width="8" height="137"/><rect x="256" y="295" width="7" height="150"/><rect x="263" y="303" width="8" height="142"/><rect x="271" y="337" width="8" height="108"/><rect x="279" y="293" width="8" height="152"/><rect x="287" y="296" width="7" height="149"/><rect x="294" y="314" width="8" height="131"/><rect x="310" y="324" width="8" height="121"/><rect x="318" y="301" width="7" height="144"/><rect x="325" y="293" width="8" height="152"/><rect x="333" y="274" width="8" height="171"/><rect x="341" y="270" width="8" height="175"/><rect x="349" y="272" width="8" height="173"/><rect x="357" y="273" width="7" height="172"/><rect x="364" y="316" width="8" height="129"/><rect x="372" y="329" width="8" height="116"/><rect x="380" y="318" width="8" height="127"/><rect x="388" y="298" width="7" height="147"/><rect x="395" y="285" width="8" height="160"/><rect x="403" y="280" width="8" height="165"/><rect x="411" y="262" width="8" height="183"/><rect x="419" y="266" width="7" height="179"/><rect x="426" y="282" width="8" height="163"/><rect x="434" y="309" width="8" height="136"/><rect x="442" y="322" width="8" height="123"/><rect x="450" y="341" width="7" height="104"/><rect x="465" y="273" width="8" height="172"/><rect x="473" y="265" width="8" height="180"/><rect x="481" y="287" width="8" height="158"/><rect x="489" y="309" width="7" height="136"/><rect x="496" y="270" width="8" height="175"/><rect x="504" y="256" width="8" height="189"/><rect x="543" y="357" width="8" height="88"/><rect x="551" y="358" width="8" height="87"/><rect x="559" y="361" width="7" height="84"/><rect x="566" y="358" width="8" height="87"/><rect x="574" y="369" width="8" height="76"/><rect x="582" y="372" width="8" height="73"/><rect x="597" y="294" width="8" height="151"/><rect x="605" y="294" width="8" height="151"/><rect x="613" y="291" width="8" height="154"/><rect x="621" y="281" width="8" height="164"/><rect x="629" y="292" width="7" height="153"/><rect x="636" y="280" width="8" height="165"/><rect x="644" y="282" width="8" height="163"/><rect x="652" y="288" width="8" height="157"/><rect x="660" y="275" width="7" height="170"/><rect x="667" y="288" width="8" height="157"/><rect x="675" y="299" width="8" height="146"/><rect x="683" y="307" width="8" height="138"/><rect x="691" y="305" width="7" height="140"/><rect x="698" y="314" width="8" height="131"/><rect x="706" y="324" width="8" height="121"/><rect x="714" y="317" width="8" height="128"/><rect x="722" y="319" width="7" height="126"/><rect x="729" y="321" width="8" height="124"/><rect x="737" y="313" width="8" height="132"/><rect x="745" y="315" width="8" height="130"/><rect x="753" y="320" width="8" height="125"/><rect x="761" y="331" width="7" height="114"/><rect x="768" y="336" width="8" height="109"/></g>
<g shape-rendering="crispEdges" fill="#fff"><rect x="84" y="316" width="1" height="1"/><rect x="122" y="353" width="1" height="1"/><rect x="130" y="308" width="1" height="1"/><rect x="177" y="335" width="1" height="1"/><rect x="185" y="309" width="1" height="1"/><rect x="192" y="307" width="1" height="1"/><rect x="200" y="306" width="1" height="1"/><rect x="231" y="318" width="1" height="1"/><rect x="239" y="308" width="1" height="1"/><rect x="247" y="307" width="1" height="1"/><rect x="255" y="294" width="1" height="1"/><rect x="278" y="292" width="1" height="1"/><rect x="309" y="323" width="1" height="1"/><rect x="317" y="300" width="1" height="1"/><rect x="324" y="292" width="1" height="1"/><rect x="332" y="273" width="1" height="1"/><rect x="340" y="269" width="1" height="1"/><rect x="379" y="317" width="1" height="1"/><rect x="387" y="297" width="1" height="1"/><rect x="394" y="284" width="1" height="1"/><rect x="402" y="279" width="1" height="1"/><rect x="410" y="261" width="1" height="1"/><rect x="464" y="272" width="1" height="1"/><rect x="472" y="264" width="1" height="1"/><rect x="495" y="269" width="1" height="1"/><rect x="503" y="255" width="1" height="1"/><rect x="542" y="356" width="1" height="1"/><rect x="565" y="357" width="1" height="1"/><rect x="596" y="293" width="1" height="1"/><rect x="612" y="290" width="1" height="1"/><rect x="620" y="280" width="1" height="1"/><rect x="635" y="279" width="1" height="1"/><rect x="659" y="274" width="1" height="1"/><rect x="690" y="304" width="1" height="1"/><rect x="713" y="316" width="1" height="1"/><rect x="736" y="312" width="1" height="1"/></g>
<g shape-rendering="crispEdges" fill="#000">
<rect x="76" y="64" width="2" height="382"/>
<rect x="74" y="445" width="5" height="1"/>
<rect x="74" y="369" width="5" height="1"/>
<rect x="74" y="293" width="5" height="1"/>
<rect x="74" y="216" width="5" height="1"/>
<rect x="74" y="140" width="5" height="1"/>
<rect x="74" y="64" width="5" height="1"/>
<rect x="81" y="446" width="1" height="2"/>
<rect x="88" y="446" width="1" height="2"/>
<rect x="96" y="446" width="1" height="2"/>
<rect x="104" y="446" width="1" height="2"/>
<rect x="112" y="446" width="1" height="2"/>
<rect x="119" y="446" width="1" height="2"/>
<rect x="127" y="446" width="1" height="2"/>
<rect x="135" y="446" width="1" height="2"/>
<rect x="143" y="446" width="1" height="2"/>
<rect x="151" y="446" width="1" height="2"/>
<rect x="158" y="446" width="1" height="2"/>
<rect x="166" y="446" width="1" height="2"/>
<rect x="174" y="446" width="1" height="2"/>
<rect x="182" y="446" width="1" height="2"/>
<rect x="189" y="446" width="1" height="2"/>
<rect x="197" y="446" width="1" height="2"/>
<rect x="205" y="446" width="1" height="2"/>
<rect x="213" y="446" width="1" height="2"/>
<rect x="220" y="446" width="1" height="2"/>
<rect x="228" y="446" width="1" height="2"/>
<rect x="236" y="446" width="1" height="2"/>
<rect x="244" y="446" width="1" height="2"/>
<rect x="252" y="446" width="1" height="2"/>
<rect x="259" y="446" width="1" height="2"/>
<rect x="267" y="446" width="1" height="2"/>
<rect x="275" y="446" width="1" height="2"/>
<rect x="283" y="446" width="1" height="2"/>
<rect x="290" y="446" width="1" height="2"/>
<rect x="298" y="446" width="1" height="2"/>
<rect x="306" y="446" width="1" height="2"/>
<rect x="314" y="446" width="1" height="2"/>
<rect x="321" y="446" width="1" height="2"/>
<rect x="329" y="446" width="1" height="2"/>
<rect x="337" y="446" width="1" height="2"/>
<rect x="345" y="446" width="1" height="2"/>
<rect x="353" y="446" width="1" height="2"/>
<rect x="360" y="446" width="1" height="2"/>
<rect x="368" y="446" width="1" height="2"/>
<rect x="376" y="446" width="1" height="2"/>
<rect x="384" y="446" width="1" height="2"/>
<rect x="391" y="446" width="1" height="2"/>
<rect x="399" y="446" width="1" height="2"/>
<rect x="407" y="446" width="1" height="2"/>
<rect x="415" y="446" width="1" height="2"/>
<rect x="422" y="446" width="1" height="2"/>
<rect x="430" y="446" width="1" height="2"/>
<rect x="438" y="446" width="1" height="2"/>
<rect x="446" y="446" width="1" height="2"/>
<rect x="453" y="446" width="1" height="2"/>
<rect x="461" y="446" width="1" height="2"/>
<rect x="469" y="446" width="1" height="2"/>
<rect x="477" y="446" width="1" height="2"/>
<rect x="485" y="446" width="1" height="2"/>
<rect x="492" y="446" width="1" height="2"/>
<rect x="500" y="446" width="1" height="2"/>
<rect x="508" y="446" width="1" height="2"/>
<rect x="516" y="446" width="1" height="2"/>
<rect x="524" y="446" width="1" height="2"/>
<rect x="531" y="446" width="1" height="2"/>
<rect x="539" y="446" width="1" height="2"/>
<rect x="547" y="446" width="1" height="2"/>
<rect x="555" y="446" width="1" height="2"/>
<rect x="562" y="446" width="1" height="2"/>
<rect x="570" y="446" width="1" height="2"/>
<rect x="578" y="446" width="1" height="2"/>
<rect x="586" y="446" width="1" height="2"/>
<rect x="593" y="446" width="1" height="2"/>
<rect x="601" y="446" width="1" height="2"/>
<rect x="609" y="446" width="1" height="2"/>
<rect x="617" y="446" width="1" height="2"/>
<rect x="625" y="446" width="1" height="2"/>
<rect x="632" y="446" width="1" height="2"/>
<rect x="640" y="446" width="1" height="2"/>
<rect x="648" y="446" width="1" height="2"/>
<rect x="656" y="446" width="1" height="2"/>
<rect x="663" y="446" width="1" height="2"/>
<rect x="671" y="446" width="1" height="2"/>
<rect x="679" y="446" width="1" height="2"/>
<rect x="687" y="446" width="1" height="2"/>
<rect x="694" y="446" width="1" height="2"/>
<rect x="702" y="446" width="1" height="2"/>
<rect x="710" y="446" width="1" height="2"/>
<rect x="718" y="446" width="1" height="2"/>
<rect x="725" y="446" width="1" height="2"/>
<rect x="733" y="446" width="1" height="2"/>
<rect x="741" y="446" width="1" height="2"/>
<rect x="749" y="446" width="1" height="2"/>
<rect x="757" y="446" width="1" height="2"/>
<rect x="764" y="446" width="1" height="2"/>
<rect x="772" y="446" width="1" height="2"/>
</g>
<g font-family="Liberation Sans, sans-serif" font-size="16.8" fill="#000" fill-opacity="0.8">
<text x="58.00" y="452" textLength="8.19" lengthAdjust="spacingAndGlyphs">0</text>
<text x="57.01" y="376" textLength="9.22" lengthAdjust="spacingAndGlyphs">1</text>
<text x="58.00" y="299" textLength="8.19" lengthAdjust="spacingAndGlyphs">2</text>
<text x="58.00" y="223" textLength="8.19" lengthAdjust="spacingAndGlyphs">3</text>
<text x="58.00" y="147" textLength="8.19" lengthAdjust="spacingAndGlyphs">4</text>
<text x="58.00" y="71" textLength="8.19" lengthAdjust="spacingAndGlyphs">5</text>
</g>
<g font-family="Liberation Sans, sans-serif" font-weight="bold" font-size="8.5" fill="#000" text-anchor="middle">
<text x="81.5" y="458">1</text>
<text x="89.0" y="458">2</text>
<text x="96.5" y="458">3</text>
<text x="104.5" y="458">4</text>
<text x="112.5" y="458">5</text>
<text x="120.0" y="458">6</text>
<text x="127.5" y="458">7</text>
<text x="135.5" y="458">8</text>
<text x="143.5" y="458">9</text>
<text x="151.5" y="458">10</text>
<text x="159.0" y="458">11</text>
<text x="166.5" y="458">12</text>
<text x="174.5" y="458">13</text>
<text x="182.5" y="458">14</text>
<text x="190.0" y="458">15</text>
<text x="197.5" y="458">16</text>
<text x="205.5" y="458">17</text>
<text x="213.5" y="458">18</text>
<text x="221.0" y="458">19</text>
<text x="228.5" y="458">20</text>
<text x="236.5" y="458">21</text>
<text x="244.5" y="458">22</text>
<text x="252.5" y="458">23</text>
<text x="260.0" y="458">24</text>
<text x="267.5" y="458">25</text>
<text x="275.5" y="458">26</text>
<text x="283.5" y="458">27</text>
<text x="291.0" y="458">28</text>
<text x="298.5" y="458">29</text>
<text x="306.5" y="458">30</text>
<text x="314.5" y="458">31</text>
<text x="322.0" y="458">32</text>
<text x="329.5" y="458">33</text>
<text x="337.5" y="458">34</text>
<text x="345.5" y="458">35</text>
<text x="353.5" y="458">36</text>
<text x="361.0" y="458">37</text>
<text x="368.5" y="458">38</text>
<text x="376.5" y="458">39</text>
<text x="384.5" y="458">40</text>
<text x="392.0" y="458">41</text>
<text x="399.5" y="458">42</text>
<text x="407.5" y="458">43</text>
<text x="415.5" y="458">44</text>
<text x="423.0" y="458">45</text>
<text x="430.5" y="458">46</text>
<text x="438.5" y="458">47</text>
<text x="446.5" y="458">48</text>
<text x="454.0" y="458">49</text>
<text x="461.5" y="458">50</text>
<text x="469.5" y="458">51</text>
<text x="477.5" y="458">52</text>
<text x="485.5" y="458">53</text>
<text x="493.0" y="458">54</text>
<text x="500.5" y="458">55</text>
<text x="508.5" y="458">56</text>
<text x="516.5" y="458">57</text>
<text x="524.5" y="458">58</text>
<text x="532.0" y="458">59</text>
<text x="539.5" y="458">60</text>
<text x="547.5" y="458">61</text>
<text x="555.5" y="458">62</text>
<text x="563.0" y="458">63</text>
<text x="570.5" y="458">64</text>
<text x="578.5" y="458">65</text>
<text x="586.5" y="458">66</text>
<text x="594.0" y="458">67</text>
<text x="601.5" y="458">68</text>
<text x="609.5" y="458">69</text>
<text x="617.5" y="458">70</text>
<text x="625.5" y="458">71</text>
<text x="633.0" y="458">72</text>
<text x="640.5" y="458">73</text>
<text x="648.5" y="458">74</text>
<text x="656.5" y="458">75</text>
<text x="664.0" y="458">76</text>
<text x="671.5" y="458">77</text>
<text x="679.5" y="458">78</text>
<text x="687.5" y="458">79</text>
<text x="695.0" y="458">80</text>
<text x="702.5" y="458">81</text>
<text x="710.5" y="458">82</text>
<text x="718.5" y="458">83</text>
<text x="726.0" y="458">84</text>
<text x="733.5" y="458">85</text>
<text x="741.5" y="458">86</text>
<text x="749.5" y="458">87</text>
<text x="757.5" y="458">88</text>
<text x="765.0" y="458">89</text>
<text x="772.5" y="458">90</text>
</g>
<g font-family="Liberation Sans, sans-serif" font-size="18.7" fill="#000" fill-opacity="0.8">
<text transform="translate(314.88,0) scale(1.12,1)" x="0" y="497" textLength="51.08" lengthAdjust="spacing">Flight</text>
<text transform="translate(387.00,0) scale(1.12,1)" x="0" y="497" textLength="45.77" lengthAdjust="spacing">track</text>
<text transform="translate(453.88,0) scale(1.12,1)" x="0" y="497" textLength="72.65" lengthAdjust="spacing">number</text>
</g>
</svg></body></html>
